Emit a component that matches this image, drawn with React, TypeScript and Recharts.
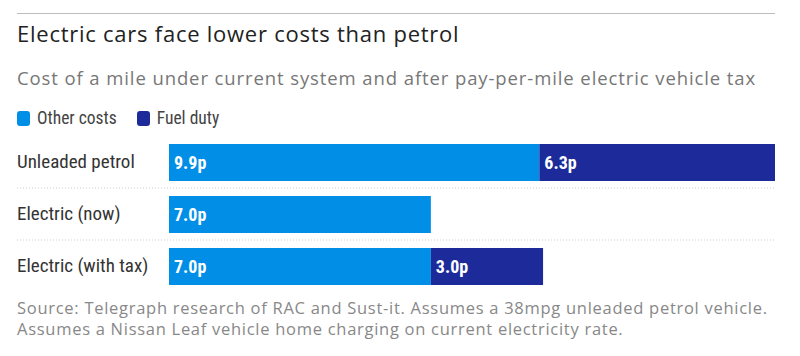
import React from "react";
import { BarChart, Bar, XAxis, YAxis, LabelList } from "recharts";

const categories = ["Unleaded petrol", "Electric (now)", "Electric (with tax)"];
const otherCosts = [9.9, 7.0, 7.0];
const fuelDuty = [6.3, 0, 3.0];
const seriesNames = ["Other costs", "Fuel duty"];

const data = categories.map((name, i) => ({
  name,
  other: otherCosts[i],
  duty: fuelDuty[i] > 0 ? fuelDuty[i] : null,
}));

const LIGHT = "#008ee6";
const DARK = "#1c2b99";
const COND = "'Roboto Condensed', 'Liberation Sans Narrow', 'DejaVu Sans Condensed', 'Open Sans', sans-serif";
const SANS = "'Open Sans', 'Liberation Sans', sans-serif";
const LABEL_X = 17;
const RIGHT_X = 775;
const HALF_ROW = 26;

const CategoryTick = (props: any) => {
  const { y, payload, index } = props;
  return (
    <g>
      <text
        x={LABEL_X}
        y={y}
        dy={6}
        textAnchor="start"
        fill="#333"
        fontSize={19}
        fontFamily={COND}
        style={{ fontStretch: "condensed" }}
      >
        {payload.value}
      </text>
      {index < categories.length - 1 && (
        <line
          x1={LABEL_X}
          x2={RIGHT_X}
          y1={y + HALF_ROW}
          y2={y + HALF_ROW}
          stroke="#cfcfcf"
          strokeWidth={1}
          strokeDasharray="1 2"
        />
      )}
    </g>
  );
};

const ValueLabel = (props: any) => {
  const { x, y, height, value } = props;
  if (value == null || value === 0) return null;
  return (
    <text
      x={x + 5}
      y={y + height / 2}
      dy={6.5}
      fill="#ffffff"
      fontSize={18}
      fontWeight={700}
      fontFamily={COND}
      style={{ fontStretch: "condensed" }}
    >
      {Number(value).toFixed(1)}p
    </text>
  );
};

export default function App() {
  return (
    <div style={{ position: "absolute", left: 0, top: 0, width: 800, height: 356, background: "#fff" }}>
      <div style={{ position: "absolute", left: 17, top: 13, width: 758, borderTop: "1px solid #bdbdbd" }} />
      <div
        style={{
          position: "absolute",
          left: 17,
          top: 20,
          fontFamily: SANS,
          fontSize: 22,
          lineHeight: "26px",
          color: "#222",
          letterSpacing: 0.75,
          whiteSpace: "nowrap",
        }}
      >
        Electric cars face lower costs than petrol
      </div>
      <div
        style={{
          position: "absolute",
          left: 17,
          top: 66,
          fontFamily: SANS,
          fontSize: 18.5,
          lineHeight: "24px",
          color: "#777",
          letterSpacing: 0.9,
          whiteSpace: "nowrap",
        }}
      >
        Cost of a mile under current system and after pay-per-mile electric vehicle tax
      </div>
      <div style={{ position: "absolute", left: 17, top: 108, display: "flex", alignItems: "center", fontFamily: COND, fontSize: 17.5, color: "#444", fontStretch: "condensed" }}>
        <span style={{ display: "inline-block", width: 13, height: 15, borderRadius: 3, background: LIGHT, marginRight: 7 }} />
        <span style={{ marginRight: 20 }}>{seriesNames[0]}</span>
        <span style={{ display: "inline-block", width: 13, height: 15, borderRadius: 3, background: DARK, marginRight: 7 }} />
        <span>{seriesNames[1]}</span>
      </div>
      <div style={{ position: "absolute", left: 0, top: 0 }}>
        <BarChart
          width={800}
          height={300}
          data={data}
          layout="vertical"
          margin={{ top: 136, right: 25, bottom: 8, left: 17 }}
          barSize={37}
        >
          <XAxis type="number" domain={[0, 16.2]} hide />
          <YAxis
            type="category"
            dataKey="name"
            width={152}
            axisLine={false}
            tickLine={false}
            tick={<CategoryTick />}
          />
          <Bar dataKey="other" stackId="a" fill={LIGHT} isAnimationActive={false}>
            <LabelList dataKey="other" content={<ValueLabel />} />
          </Bar>
          <Bar dataKey="duty" stackId="a" fill={DARK} isAnimationActive={false}>
            <LabelList dataKey="duty" content={<ValueLabel />} />
          </Bar>
        </BarChart>
      </div>
      <div
        style={{
          position: "absolute",
          left: 17,
          top: 297,
          fontFamily: SANS,
          fontSize: 16.5,
          lineHeight: "21px",
          color: "#888",
          letterSpacing: 0.72,
          whiteSpace: "nowrap",
        }}
      >
        Source: Telegraph research of RAC and Sust-it. Assumes a 38mpg unleaded petrol vehicle.
        <br />
        Assumes a Nissan Leaf vehicle home charging on current electricity rate.
      </div>
    </div>
  );
}
